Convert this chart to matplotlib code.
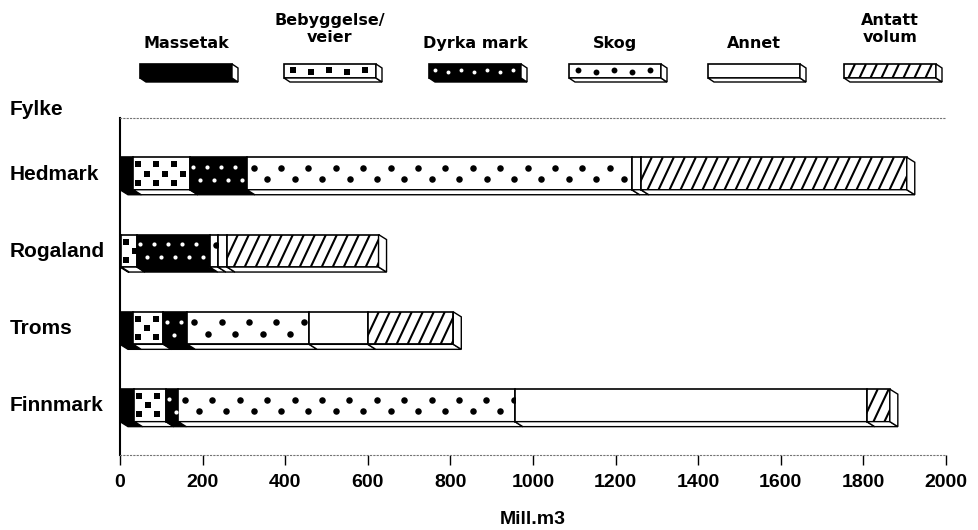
import numpy as np
import matplotlib.pyplot as plt
from matplotlib.patches import Rectangle, Polygon
from matplotlib.transforms import blended_transform_factory

# values (Mill. m3)
categories = ['Hedmark', 'Rogaland', 'Troms', 'Finnmark']
massetak = [32, 3, 32, 35]
bebyggelse = [137, 38, 73, 76]
dyrka_mark = [138, 176, 58, 30]
skog = [932, 20, 295, 815]
annet = [22, 22, 142, 852]
antatt_volum = [644, 367, 207, 56]

series = [massetak, bebyggelse, dyrka_mark, skog, annet, antatt_volum]
series_labels = ['Massetak', 'Bebyggelse/\nveier', 'Dyrka mark', 'Skog', 'Annet', 'Antatt\nvolum']
styles = ['solid', 'beb', 'dyrka', 'skog', 'blank', 'hatch']
xticks = list(range(0, 2001, 200))

W, H = 979, 530
fig = plt.figure(figsize=(W / 100, H / 100), dpi=100)

# main axes: 0..2000 sits between pixel 120 and 946
ax = fig.add_axes([120 / W, 1 - 455 / H, 826 / W, 337 / H])
span = 337 / 77.3
ytop = -0.718
ax.set_xlim(0, 2000)
ax.set_ylim(ytop + span, ytop)
ux = 2000 / 826      # data units per pixel
uy = span / 337

bar_h = 0.42
depth = (8, 5)       # pixels


def dot_positions(w_px, h_px, step, rowsets):
    pts = []
    x = step / 2
    j = 0
    while x < w_px:
        for r in rowsets[j % len(rowsets)]:
            pts.append((x, r * h_px))
        x += step
        j += 1
    return pts


def draw_face(a, x0, x1, yt, yb, style, ux, uy, clip):
    w_px = (x1 - x0) / ux
    h_px = (yb - yt) / uy
    small = h_px < 20
    if style == 'hatch':
        step = 11
        slant = 0.47 * h_px
        for xp in np.arange(-slant, w_px + step, step):
            ln, = a.plot([x0 + xp * ux, x0 + (xp + slant) * ux], [yb, yt],
                         color='black', lw=1.5, solid_capstyle='butt', zorder=3)
            ln.set_clip_path(clip)
        return
    if style == 'beb':
        step, rows, marker, s, c = (18, [[0.45], [0.6]], 's', 14, 'black') if small else \
            (9, [[0.22, 0.78], [0.5]], 's', 15, 'black')
    elif style == 'skog':
        step, rows, marker, s, c = (18, [[0.45], [0.6]], 'o', 18, 'black') if small else \
            (13.7, [[0.32], [0.68]], 'o', 22, 'black')
    elif style == 'dyrka':
        step, rows, marker, s, c = (13, [[0.4], [0.6]], 'o', 8, 'white') if small else \
            (7, [[0.3], [0.7]], 'o', 9, 'white')
    else:
        return
    pts = dot_positions(w_px, h_px, step, rows)
    if not pts:
        return
    xs = [x0 + p[0] * ux for p in pts]
    ys = [yt + p[1] * uy for p in pts]
    sc = a.scatter(xs, ys, s=s, marker=marker, color=c, linewidths=0, zorder=3)
    sc.set_clip_path(clip)


def bottom_face(a, x0, x1, yb, ux, uy, color):
    dx, dy = depth[0] * ux, depth[1] * uy
    a.add_patch(Polygon([(x0, yb), (x1, yb), (x1 + dx, yb + dy), (x0 + dx, yb + dy)],
                        closed=True, facecolor=color, edgecolor='black', lw=1.0, zorder=2))


def side_face(a, x1, yt, yb, ux, uy):
    dx, dy = depth[0] * ux, depth[1] * uy
    a.add_patch(Polygon([(x1, yt), (x1 + dx, yt + dy), (x1 + dx, yb + dy), (x1, yb)],
                        closed=True, facecolor='white', edgecolor='black', lw=1.0, zorder=2))


ypos = np.arange(len(categories))
left = np.zeros(len(categories))
for vals, style in zip(series, styles):
    face = 'black' if style in ('solid', 'dyrka') else 'white'
    bars = ax.barh(ypos, vals, left=left, height=bar_h, color=face,
                   edgecolor='black', linewidth=1.2, zorder=2)
    for p in bars:
        x0, w = p.get_x(), p.get_width()
        yt, hh = p.get_y(), p.get_height()
        bottom_face(ax, x0, x0 + w, yt + hh, ux, uy, face)
        draw_face(ax, x0, x0 + w, yt, yt + hh, style, ux, uy, p)
    left = left + np.array(vals)

for y, tot in zip(ypos, left):
    side_face(ax, tot, y - bar_h / 2, y + bar_h / 2, ux, uy)

# axes styling
for side in ['top', 'bottom']:
    ax.spines[side].set_linestyle((0, (1, 2)))
    ax.spines[side].set_color('0.45')
    ax.spines[side].set_linewidth(0.8)
ax.spines['right'].set_visible(False)
ax.spines['left'].set_linewidth(1.5)
ax.set_yticks([])
ax.set_xticks(xticks)
ax.set_xticklabels([str(t) for t in xticks], fontfamily='Liberation Sans',
                   fontweight='bold', fontsize=14)
ax.tick_params(axis='x', length=7, width=1, direction='out', pad=7)

fig.text(533 / W, 1 - 520 / H, 'Mill.m3', ha='center', va='center',
         fontfamily='Liberation Sans', fontweight='bold', fontsize=14)

tr = blended_transform_factory(fig.transFigure, ax.transData)
for y, name in zip(ypos, categories):
    ax.text(10 / W, y + 6 * uy, name, transform=tr, ha='left', va='baseline',
            fontfamily='Liberation Sans', fontweight='bold', fontsize=15)
ax.text(10 / W, ytop + (115 - 118) * uy, 'Fylke', transform=tr, ha='left', va='baseline',
        fontfamily='Liberation Sans', fontweight='bold', fontsize=15)

# legend drawn in pixel coordinates
lax = fig.add_axes([0, 0, 1, 1], zorder=-1)
lax.set_xlim(0, W)
lax.set_ylim(H, 0)
lax.axis('off')
centers = [186, 330, 475, 615, 754, 890]
for cx, lab, style in zip(centers, series_labels, styles):
    face = 'black' if style in ('solid', 'dyrka') else 'white'
    x0, x1, yt, yb = cx - 46, cx + 46, 64, 78
    r = Rectangle((x0, yt), x1 - x0, yb - yt, facecolor=face, edgecolor='black', lw=1.2, zorder=2)
    lax.add_patch(r)
    bottom_face(lax, x0, x1, yb, 0.75, 0.8, face)
    side_face(lax, x1, yt, yb, 0.75, 0.8)
    draw_face(lax, x0, x1, yt, yb, style, 1, 1, r)
    lines = lab.split('\n')
    bases = [48] if len(lines) == 1 else [25, 42]
    for txt, b in zip(lines, bases):
        lax.text(cx, b, txt, ha='center', va='baseline', fontfamily='DejaVu Sans',
                 fontweight='bold', fontsize=11.5)

fig.savefig('out.png', dpi=100)
